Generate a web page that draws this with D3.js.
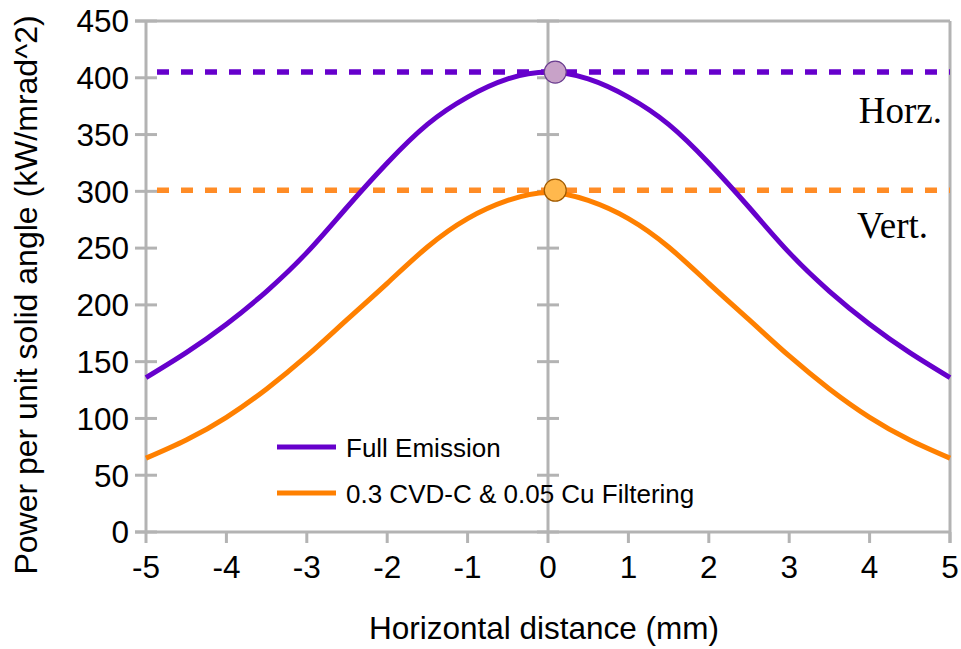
<!DOCTYPE html>
<html><head><meta charset="utf-8">
<script src="https://cdn.jsdelivr.net/npm/d3@7"></script>
<style>body{margin:0;background:#fff}</style>
</head><body>
<svg id="c" width="961" height="649"></svg>
<script>
const xValues = [-5,-4.5,-4,-3.5,-3,-2.5,-2,-1.5,-1,-0.5,0,0.5,1,1.5,2,2.5,3,3.5,4,4.5,5];
const fullEmission = [136,158,183,212,246,286,325,359,383,399,405,399,383,359,325,286,246,212,183,158,136];
const filtered = [65,81,101,126,155,187,219,251,276,292,299,292,276,251,219,187,155,126,101,81,65];
const seriesNames = ["Full Emission","0.3 CVD-C & 0.05 Cu Filtering"];
const peakLevels = [405, 301];
const peakX = [0.09, 0.09];
const levelLabels = ["Horz.","Vert."];
const xTicks = [-5,-4,-3,-2,-1,0,1,2,3,4,5];
const yTicks = [0,50,100,150,200,250,300,350,400,450];

const svg = d3.select("#c");
const L=146,R=950,T=21,B=532;
const x = d3.scaleLinear().domain([-5,5]).range([L,R]);
const y = d3.scaleLinear().domain([0,450]).range([B,T]);
const grey="#b3b3b3";
const sans="'Liberation Sans', Arial, sans-serif";
const serif="'Liberation Serif', 'Times New Roman', serif";
const purple="#6600cc", orange="#ff8000";

// frame
svg.append("line").attr("x1",L-11).attr("x2",R).attr("y1",y(450)).attr("y2",y(450)).attr("stroke",grey).attr("stroke-width",3);
svg.append("line").attr("x1",R).attr("x2",R).attr("y1",T).attr("y2",B+11).attr("stroke",grey).attr("stroke-width",3);

// left axis
const gl = svg.append("g").attr("transform",`translate(${L},0)`);
gl.append("line").attr("y1",T).attr("y2",B).attr("stroke",grey).attr("stroke-width",3);
gl.selectAll("line.t").data(yTicks).join("line").attr("class","t")
  .attr("x1",-11).attr("x2",11).attr("y1",d=>y(d)).attr("y2",d=>y(d)).attr("stroke",grey).attr("stroke-width",3);
gl.selectAll("text").data(yTicks).join("text")
  .attr("x",-17).attr("y",d=>y(d)).attr("dy","0.36em").attr("text-anchor","end")
  .attr("font-family",sans).attr("font-size",31.5).attr("fill","#000").text(d=>d);

// center axis at x=0
const gc = svg.append("g").attr("transform",`translate(${x(0)},0)`);
gc.append("line").attr("y1",T).attr("y2",B).attr("stroke",grey).attr("stroke-width",3);
gc.selectAll("line.t").data(yTicks).join("line").attr("class","t")
  .attr("x1",-11).attr("x2",11).attr("y1",d=>y(d)).attr("y2",d=>y(d)).attr("stroke",grey).attr("stroke-width",3);

// bottom axis
const gb = svg.append("g").attr("transform",`translate(0,${B})`);
gb.append("line").attr("x1",L-11).attr("x2",R).attr("stroke",grey).attr("stroke-width",3);
gb.selectAll("line.t").data(xTicks).join("line").attr("class","t")
  .attr("x1",d=>x(d)).attr("x2",d=>x(d)).attr("y1",0).attr("y2",11).attr("stroke",grey).attr("stroke-width",3);
gb.selectAll("text").data(xTicks).join("text")
  .attr("x",d=>x(d)).attr("y",46).attr("text-anchor","middle")
  .attr("font-family",sans).attr("font-size",31.5).attr("fill","#000").text(d=>d);

// axis titles
svg.append("text").attr("x",544).attr("y",639).attr("text-anchor","middle")
  .attr("font-family",sans).attr("font-size",31.5).text("Horizontal distance (mm)");
svg.append("text").attr("transform","translate(37,295) rotate(-90)").attr("text-anchor","middle")
  .attr("font-family",sans).attr("font-size",32).text("Power per unit solid angle (kW/mrad^2)");

// dashed levels
const dashCols=["#6600cc","#ff8c26"];
peakLevels.forEach((v,i)=>{
  svg.append("line").attr("x1",x(-5)+11).attr("x2",R).attr("y1",y(v)).attr("y2",y(v))
    .attr("stroke",dashCols[i]).attr("stroke-width",5.5).attr("stroke-dasharray","12,12");
});

// curves
const line = d3.line().x((d,i)=>x(xValues[i])).y(d=>y(d)).curve(d3.curveNatural);
[fullEmission, filtered].forEach((s,i)=>{
  svg.append("path").attr("d",line(s)).attr("fill","none")
    .attr("stroke",i?orange:purple).attr("stroke-width",5);
});

// peak markers
const mFill=["#c8a2c8","#ffb84d"], mStroke=["#6a3d8f","#a05a00"];
peakLevels.forEach((v,i)=>{
  svg.append("circle").attr("cx",x(peakX[i])).attr("cy",y(v)).attr("r",11)
    .attr("fill",mFill[i]).attr("stroke",mStroke[i]).attr("stroke-width",1.2);
});

// level labels
svg.append("text").attr("x",942).attr("y",123).attr("text-anchor","end")
  .attr("font-family",serif).attr("font-size",37).text(levelLabels[0]);
svg.append("text").attr("x",928).attr("y",238).attr("text-anchor","end")
  .attr("font-family",serif).attr("font-size",37).text(levelLabels[1]);

// legend
const lg = svg.append("g");
seriesNames.forEach((n,i)=>{
  const yy = 447 + i*46;
  lg.append("line").attr("x1",277).attr("x2",336).attr("y1",yy).attr("y2",yy)
    .attr("stroke",i?orange:purple).attr("stroke-width",5);
  lg.append("text").attr("x",346).attr("y",yy+10).attr("font-family",sans).attr("font-size",26).text(n);
});
</script>
</body></html>
